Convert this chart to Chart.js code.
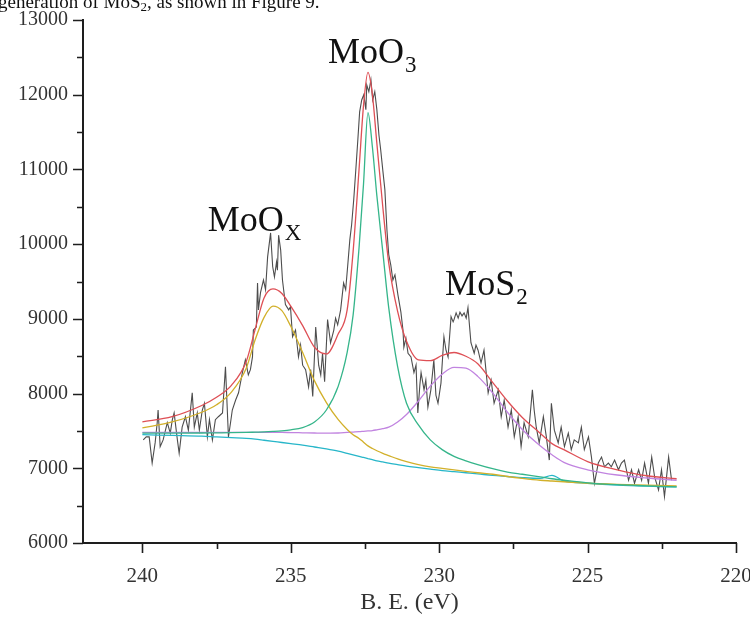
<!DOCTYPE html>
<html>
<head>
<meta charset="utf-8">
<script src="https://cdn.jsdelivr.net/npm/chart.js@4.4.1/dist/chart.umd.min.js"></script>
<style>
  body { margin: 0; background: #fff; }
  #wrap { position: relative; width: 750px; height: 617px; overflow: hidden; }
  #caption {
    position: absolute; left: -2px; top: -8px; margin: 0;
    font: 19px "Liberation Serif", "Times New Roman", serif; line-height: 1;
    color: #111; white-space: nowrap;
  }
  #caption sub { font-size: 13px; vertical-align: -3px; line-height: 0; }
  canvas { position: absolute; left: 0; top: 0; }
</style>
</head>
<body>
<div id="wrap">
  <canvas id="xps" width="750" height="617"></canvas>
  <p id="caption">generation of MoS<sub>2</sub>, as shown in Figure 9.</p>
</div>
<script>
// measured Mo 3d spectrum (binding energy in eV, intensity in counts)
const energy = [
  239.97, 239.87, 239.77, 239.67, 239.57, 239.50, 239.47, 239.40, 239.30, 239.16,
  239.06, 238.99, 238.93, 238.82, 238.76, 238.66, 238.55, 238.45, 238.32, 238.25,
  238.15, 238.08, 237.98, 237.91, 237.81, 237.74, 237.64, 237.54, 237.44, 237.30,
  237.20, 237.10, 237.03, 236.97, 236.86, 236.76, 236.63, 236.53, 236.43, 236.36,
  236.29, 236.26, 236.16, 236.12, 236.09, 236.02, 235.92, 235.85, 235.78, 235.68,
  235.61, 235.55, 235.48, 235.45, 235.41, 235.34, 235.28, 235.18, 235.07, 235.01,
  234.94, 234.84, 234.74, 234.67, 234.60, 234.50, 234.40, 234.33, 234.26, 234.16,
  234.06, 233.99, 233.93, 233.86, 233.76, 233.66, 233.55, 233.49, 233.42, 233.32,
  233.22, 233.15, 233.08, 233.01, 232.95, 232.88, 232.81, 232.74, 232.68, 232.61,
  232.54, 232.47, 232.44, 232.37, 232.30, 232.24, 232.17, 232.10, 232.03, 231.97,
  231.90, 231.83, 231.76, 231.70, 231.63, 231.56, 231.49, 231.39, 231.29, 231.22,
  231.19, 231.12, 231.05, 230.95, 230.85, 230.78, 230.72, 230.65, 230.61, 230.51,
  230.45, 230.38, 230.28, 230.18, 230.11, 230.04, 229.94, 229.84, 229.77, 229.70,
  229.60, 229.53, 229.50, 229.43, 229.36, 229.30, 229.23, 229.16, 229.09, 229.03,
  228.93, 228.82, 228.76, 228.69, 228.59, 228.49, 228.35, 228.25, 228.15, 228.01,
  227.91, 227.81, 227.68, 227.57, 227.47, 227.34, 227.24, 227.14, 227.00, 226.86,
  226.80, 226.73, 226.63, 226.56, 226.49, 226.39, 226.29, 226.22, 226.12, 225.99,
  225.89, 225.78, 225.65, 225.55, 225.45, 225.31, 225.21, 225.11, 224.97, 224.87,
  224.77, 224.64, 224.53, 224.43, 224.30, 224.20, 224.09, 223.96, 223.86, 223.76,
  223.62, 223.52, 223.42, 223.28, 223.18, 223.08, 222.95, 222.84, 222.74, 222.61,
  222.51, 222.41, 222.27, 222.17
];
const counts = [
  7380, 7420, 7420, 7070, 7340, 7610, 7780, 7290, 7380, 7610,
  7470, 7650, 7740, 7380, 7200, 7550, 7690, 7510, 8010, 7550,
  7740, 7510, 7780, 7870, 7420, 7650, 7380, 7650, 7690, 7740,
  8360, 7420, 7610, 7780, 7910, 8010, 8280, 8450, 8250, 8320,
  8490, 8850, 8890, 9480, 9120, 9350, 9520, 9390, 9830, 10150,
  9700, 9560, 9760, 9650, 10120, 9920, 9520, 9190, 9120, 9160,
  8760, 8850, 8490, 8650, 8380, 8320, 8090, 8320, 7960, 8890,
  8380, 8250, 8540, 8160, 8990, 8680, 8850, 9010, 8920, 9120,
  9480, 9390, 9720, 10060, 10260, 10590, 10990, 11400, 11770, 11930,
  12000, 11800, 12130, 12040, 12200, 11930, 12040, 11800, 11460, 11260,
  10990, 10730, 10190, 9860, 9720, 9520, 9590, 9320, 9090, 8850,
  8620, 8740, 8540, 8490, 8280, 8380, 7740, 8120, 8280, 8050,
  8180, 7820, 8050, 8450, 7980, 7870, 8140, 8760, 8580, 8490,
  9030, 8960, 8990, 9080, 9010, 9090, 9040, 9080, 9010, 9150,
  8680, 8540, 8650, 8580, 8410, 8580, 8010, 8180, 7870, 8050,
  7690, 7910, 7550, 7780, 7420, 7690, 7290, 7610, 7420, 8050,
  7780, 7550, 7340, 7510, 7690, 7420, 7110, 7870, 7510, 7340,
  7550, 7290, 7470, 7250, 7380, 7340, 7550, 7250, 7420, 7150,
  6800, 7070, 7150, 7020, 7070, 7020, 7110, 6980, 7070, 7110,
  6840, 6980, 6800, 6980, 6840, 7070, 6800, 7150, 6880, 6710,
  6980, 6620, 7150, 6840
];

// fitted components, all on the same energy grid
const fitEnergy = [
  240, 239, 238, 237.5, 237, 236.5, 236.2, 235.9, 235.6, 235.3,
  235, 234.6, 234.2, 233.8, 233.4, 233.1, 232.9, 232.7, 232.55, 232.4,
  232.25, 232.1, 231.9, 231.7, 231.4, 231.1, 230.7, 230.3, 229.9, 229.5,
  229.1, 228.7, 228.2, 227.7, 227.2, 226.6, 226.2, 225.8, 225, 224,
  223, 222
];
const envelope = [
  7620, 7690, 7840, 7950, 8110, 8430, 8860, 9280, 9400, 9340,
  9170, 8910, 8620, 8530, 8800, 9120, 9900, 11000, 11850, 12300,
  12000, 11350, 10500, 9750, 9100, 8700, 8450, 8440, 8510, 8550,
  8500, 8400, 8150, 7900, 7680, 7470, 7330, 7250, 7090, 6980,
  6900, 6860
];
const moOxFit = [
  7540, 7620, 7750, 7850, 8020, 8340, 8720, 9020, 9170, 9110,
  8900, 8550, 8170, 7880, 7650, 7520, 7450, 7400, 7350, 7300,
  7265, 7235, 7200, 7170, 7125, 7090, 7050, 7020, 7000, 6980,
  6960, 6940, 6920, 6890, 6865, 6840, 6830, 6820, 6800, 6785,
  6775, 6765
];
const moO3Fit = [
  7470, 7470, 7472, 7474, 7476, 7480, 7484, 7488, 7494, 7502,
  7515, 7545, 7620, 7780, 8100, 8550, 9050, 9950, 10800, 11760,
  11300, 10650, 9900, 9150, 8360, 7870, 7580, 7380, 7250, 7160,
  7100, 7050, 6995, 6950, 6920, 6885, 6860, 6840, 6805, 6780,
  6765, 6750
];
const moS2Fit = [
  7480, 7480, 7480, 7480, 7480, 7480, 7480, 7480, 7480, 7480,
  7478, 7475, 7472, 7470, 7472, 7480, 7485, 7490, 7495, 7500,
  7505, 7515, 7530, 7550, 7620, 7720, 7900, 8100, 8260, 8350,
  8340, 8230, 8010, 7750, 7520, 7300, 7180, 7080, 6980, 6910,
  6870, 6840
];
const background = [
  7450, 7440, 7430, 7420, 7410, 7400, 7390, 7375, 7360, 7345,
  7330, 7310, 7285, 7260, 7230, 7200, 7180, 7160, 7145, 7130,
  7115, 7100, 7085, 7070, 7050, 7030, 7010, 6990, 6970, 6955,
  6940, 6925, 6905, 6890, 6875, 6865, 6905, 6830, 6800, 6775,
  6760, 6750
];

const xTicks = [240, 235, 230, 225, 220];
const xMinorTicks = [237.5, 232.5, 227.5, 222.5];
const yTicks = [6000, 7000, 8000, 9000, 10000, 11000, 12000, 13000];
const yMinorTicks = [6500, 7500, 8500, 9500, 10500, 11500, 12500];

const serif = '"Liberation Serif", "Times New Roman", serif';
const axisColor = '#1e1e1e';

function points(xs, ys) {
  return xs.map((x, i) => ({ x: x, y: ys[i] }));
}

function fitLine(label, ys, color, order) {
  return {
    label: label,
    data: points(fitEnergy, ys),
    borderColor: color,
    borderWidth: 1.3,
    pointRadius: 0,
    tension: 0.4,
    cubicInterpolationMode: 'monotone',
    order: order,
  };
}

// outward tick marks, long on the labelled values and short in between
const tickMarks = {
  id: 'tickMarks',
  afterDraw(chart) {
    const { ctx, chartArea, scales } = chart;
    ctx.save();
    ctx.strokeStyle = axisColor;
    ctx.lineWidth = 1.6;
    ctx.beginPath();
    xTicks.concat(xMinorTicks).forEach((v, i) => {
      const px = Math.round(scales.x.getPixelForValue(v)) + 0.5;
      const len = i < xTicks.length ? 10 : 6;
      ctx.moveTo(px, chartArea.bottom);
      ctx.lineTo(px, chartArea.bottom + len);
    });
    yTicks.concat(yMinorTicks).forEach((v, i) => {
      const py = Math.round(scales.y.getPixelForValue(v)) + 0.5;
      const len = i < yTicks.length ? 10 : 6;
      ctx.moveTo(chartArea.left, py);
      ctx.lineTo(chartArea.left - len, py);
    });
    ctx.stroke();
    ctx.restore();
  }
};

// chemical state labels with subscripts
const peakLabels = {
  id: 'peakLabels',
  afterDatasetsDraw(chart, args, opts) {
    const { ctx, scales } = chart;
    ctx.save();
    ctx.fillStyle = '#111';
    ctx.textBaseline = 'alphabetic';
    opts.items.forEach(item => {
      const px = scales.x.getPixelForValue(item.at[0]);
      const py = scales.y.getPixelForValue(item.at[1]);
      ctx.font = `${opts.size}px ${serif}`;
      ctx.fillText(item.text, px, py);
      const w = ctx.measureText(item.text).width;
      ctx.font = `${opts.subSize}px ${serif}`;
      ctx.fillText(item.sub, px + w + 1, py + opts.subDrop);
    });
    ctx.restore();
  }
};

new Chart(document.getElementById('xps'), {
  type: 'line',
  data: {
    datasets: [
      {
        label: 'Raw',
        data: points(energy, counts),
        borderColor: '#4d4d4d',
        borderWidth: 1.1,
        pointRadius: 0,
        tension: 0,
        order: 6,
      },
      fitLine('Background', background, '#27b6c9', 5),
      fitLine('MoS2', moS2Fit, '#c184e0', 4),
      fitLine('MoOx', moOxFit, '#d2b02a', 3),
      fitLine('MoO3', moO3Fit, '#35b58a', 2),
      fitLine('Envelope', envelope, '#de4f55', 1),
    ],
  },
  options: {
    responsive: false,
    animation: false,
    layout: { padding: { left: 0, right: 14, top: 20, bottom: 0 } },
    plugins: {
      legend: { display: false },
      tooltip: { enabled: false },
      peakLabels: {
        size: 36,
        subSize: 23,
        subDrop: 9,
        items: [
          { text: 'MoO', sub: 'X', at: [237.8, 10180] },
          { text: 'MoO', sub: '3', at: [233.75, 12420] },
          { text: 'MoS', sub: '2', at: [229.8, 9320] },
        ],
      },
    },
    scales: {
      x: {
        type: 'linear',
        reverse: true,
        min: 220,
        max: 242,
        afterBuildTicks: (scale) => {
          scale.ticks = xTicks.map(v => ({ value: v }));
        },
        afterFit: (scale) => {
          scale.height = 74;
          scale.paddingLeft = 0;
          scale.paddingRight = 0;
        },
        grid: { display: false, drawTicks: false },
        border: { display: true, color: axisColor, width: 2 },
        ticks: {
          color: '#333',
          padding: 21,
          maxRotation: 0,
          font: { family: serif, size: 21 },
        },
        title: {
          display: true,
          text: 'B. E. (eV)',
          color: '#333',
          padding: { top: 2, bottom: 0 },
          font: { family: serif, size: 24 },
        },
      },
      y: {
        min: 6000,
        max: 13000,
        afterBuildTicks: (scale) => {
          scale.ticks = yTicks.map(v => ({ value: v }));
        },
        afterFit: (scale) => {
          scale.width = 83;
          scale.paddingTop = 0;
          scale.paddingBottom = 0;
        },
        grid: { display: false, drawTicks: false },
        border: { display: true, color: axisColor, width: 2 },
        ticks: {
          color: '#333',
          padding: 15,
          font: { family: serif, size: 20 },
          callback: (v) => String(v),
        },
      },
    },
  },
  plugins: [tickMarks, peakLabels],
});
</script>
</body>
</html>
